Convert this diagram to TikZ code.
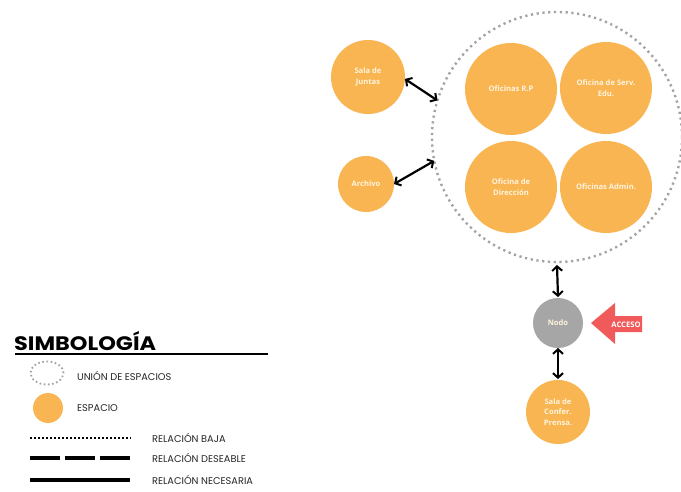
\documentclass[tikz,border=0pt]{standalone}
\usepackage{fontspec}
\setmainfont{Poppins}
\newfontfamily\labfont{Open Sans}
\newfontfamily\titfont[FakeStretch=1.15]{Poppins}
\usetikzlibrary{arrows.meta,shapes.geometric}
\definecolor{esp}{HTML}{F9B551}
\definecolor{labcol}{HTML}{FFF4E0}
\definecolor{nodogray}{HTML}{A6A6A6}
\definecolor{dotgray}{HTML}{A3A3A3}
\definecolor{accred}{HTML}{F05A5A}
\tikzset{
  espacio/.style={circle, fill=esp, inner sep=0pt, outer sep=0pt, text=labcol,
    font=\labfont\fontsize{7.6}{10.5}\selectfont\bfseries, align=center},
  union/.style={circle, draw=dotgray, line width=2.4pt, dash pattern=on 2.2pt off 3.6pt,
    inner sep=0pt, outer sep=0pt},
  rel/.style={{Straight Barb[length=4.5pt,width=10pt,line width=2pt]}-{Straight Barb[length=4.5pt,width=10pt,line width=2pt]}, line width=2.2pt},
  legtext/.style={anchor=west, font=\fontsize{9.8}{12}\selectfont, inner sep=0pt, text=black!85}
}
\begin{document}
\begin{tikzpicture}[x=1pt,y=-1pt]
\useasboundingbox[fill=white] (0,0) rectangle (681,491);

% union of spaces
\node[union, minimum size=250pt] (union) at (557,137) {};

% spaces
\node[espacio, minimum size=92pt] (rp) at (511,89) {Oficinas R.P};
\node[espacio, minimum size=92pt] (serv) at (606,88) {Oficina de Serv.\\Edu.};
\node[espacio, minimum size=92pt] (dir) at (511,187) {Oficina de\\Dirección};
\node[espacio, minimum size=92pt] (admin) at (606,187) {Oficinas Admin.};
\node[espacio, minimum size=74pt] (juntas) at (368,77) {Sala de\\Juntas};
\node[espacio, minimum size=56pt] (archivo) at (366,184) {Archivo};
\node[circle, fill=nodogray, inner sep=0pt, outer sep=0pt, minimum size=50pt, text=labcol,
  font=\labfont\fontsize{7.6}{10}\selectfont\bfseries] (nodo) at (558,323) {Nodo};
\node[espacio, minimum size=64pt] (prensa) at (558,412) {Sala de\\Confer.\\Prensa.};

% relations
\draw[rel] (juntas.-3) -- (union.163);
\draw[rel] (archivo.0) -- (union.191);
\draw[rel] ([yshift=-3pt]union.south) -- ([yshift=1pt]nodo.north);
\draw[rel] (nodo.south) -- ([yshift=1pt]prensa.north);

% access arrow
\fill[accred] (591,323) -- (615,303) -- (615,316) -- (642,316) -- (642,332) -- (615,332) -- (615,344) -- cycle;
\node[text=white, font=\labfont\fontsize{7.6}{8}\selectfont\bfseries, inner sep=0pt] (acceso) at (626,325) {ACCESO};

% legend
\node[anchor=base west, inner sep=0pt, font=\titfont\fontsize{19.5}{22}\selectfont\bfseries] (simb) at (14,350) {SIMBOLOGÍA};
\draw[line width=2pt] (15,354) coordinate (ul1) -- (268,354) coordinate (ul2);

\node[draw=dotgray, ellipse, line width=1.8pt, dash pattern=on 1.6pt off 2.6pt, minimum width=33pt, minimum height=23pt, inner sep=0pt] (legu) at (47,373) {};
\node[legtext] (tu) at (77,376) {UNIÓN DE ESPACIOS};

\node[circle, fill=esp, minimum size=30pt, inner sep=0pt] (lege) at (48,408) {};
\node[legtext] (te) at (77,408) {ESPACIO};

\coordinate (l1a) at (30,438); \coordinate (l1b) at (131,438);
\draw[line width=1.5pt, dash pattern=on 1.5pt off 2.5pt] (l1a) -- (l1b);
\node[legtext] (t1) at (152,438) {RELACIÓN BAJA};

\coordinate (l2a) at (30,458); \coordinate (l2b) at (130,458);
\draw[line width=3.5pt, dash pattern=on 30pt off 5pt] (l2a) -- (l2b);
\node[legtext] (t2) at (152,458) {RELACIÓN DESEABLE};

\coordinate (l3a) at (30,480); \coordinate (l3b) at (130,480);
\draw[line width=4pt] (l3a) -- (l3b);
\node[legtext] (t3) at (152,480) {RELACIÓN NECESARIA};
\end{tikzpicture}
\end{document}
